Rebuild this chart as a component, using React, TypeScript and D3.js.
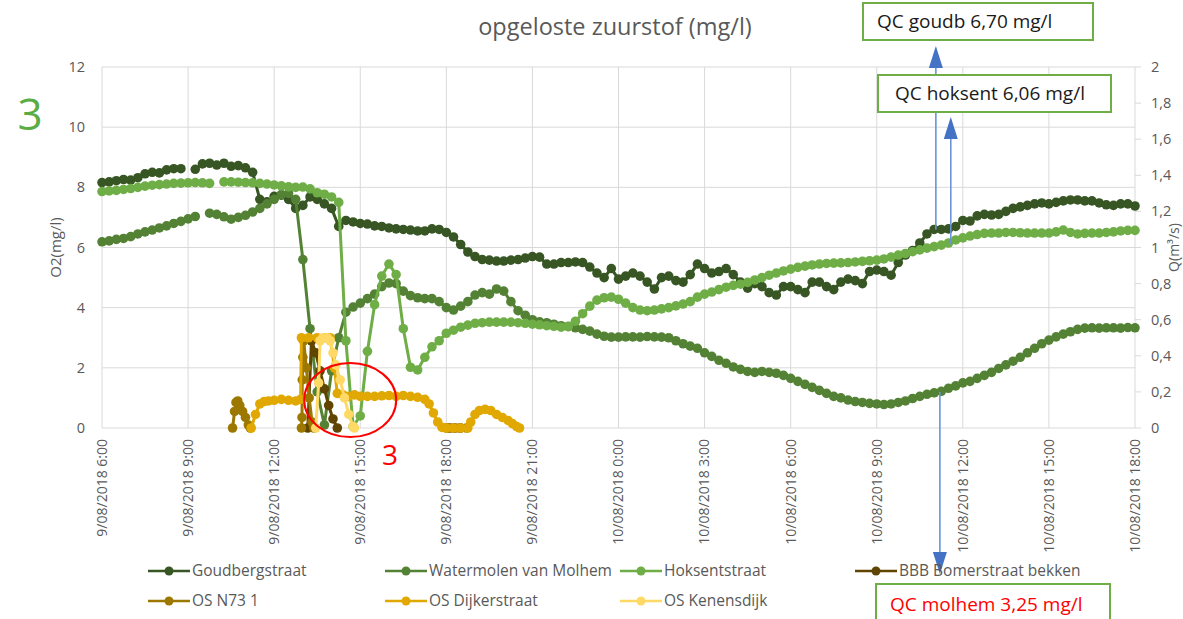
import React from 'react';
import * as d3 from 'd3';

// time in hours from 9/08/2018 0:00; grid series start at 6:00, every 15 minutes
const GRID_START = 6;
const GRID_STEP = 0.25;

const goudbergstraat: (number | null)[] = [
  8.16, 8.18, 8.22, 8.26, 8.24, 8.32, 8.45, 8.5, 8.48, 8.58, 8.62, 8.62, null, 8.6, 8.78, 8.8,
  8.74, 8.8, 8.7, 8.72, 8.65, 8.5, 7.6, 7.52, 7.7, 7.74, 7.6, 7.3, 7.4, 7.68, 7.6, 7.45,
  7.3, 6.7, 6.9, 6.85, 6.8, 6.78, 6.72, 6.7, 6.65, 6.62, 6.6, 6.58, 6.55, 6.55, 6.62, 6.6,
  6.5, 6.35, 6.1, 5.85, 5.7, 5.6, 5.58, 5.55, 5.55, 5.58, 5.6, 5.65, 5.7, 5.68, 5.45, 5.45,
  5.5, 5.5, 5.52, 5.5, 5.35, 5.15, 5.0, 5.3, 4.95, 5.05, 5.15, 5.05, 4.85, 4.62, 5.0, 5.05,
  4.9, 4.85, 5.1, 5.45, 5.3, 5.15, 5.2, 5.3, 5.1, 4.85, 4.65, 4.8, 4.7, 4.5, 4.42, 4.7,
  4.7, 4.6, 4.5, 4.85, 4.85, 4.7, 4.6, 4.85, 4.95, 4.9, 4.8, 5.2, 5.25, 5.2, 5.08, 5.5,
  5.75, 5.9, 6.15, 6.45, 6.6, 6.6, 6.62, 6.7, 6.9, 6.88, 7.05, 7.1, 7.08, 7.1, 7.2, 7.3,
  7.35, 7.4, 7.45, 7.48, 7.45, 7.5, 7.55, 7.58, 7.58, 7.55, 7.55, 7.48, 7.42, 7.4, 7.45, 7.45,
  7.38,
];

const watermolenVanMolhem: (number | null)[] = [
  6.19, 6.22, 6.27, 6.3, 6.36, 6.45, 6.52, 6.58, 6.65, 6.72, 6.8, 6.87, 6.95, 7.03, null, 7.14,
  7.1, 7.02, 6.94, 7.0, 7.07, 7.18, 7.3, 7.45, 7.6, 7.76, 7.8, 7.6, 5.6, 3.3, 1.2, 0.1,
  1.9, 3.0, 3.85, 4.02, 4.15, 4.3, 4.45, 4.7, 4.82, 4.8, 4.55, 4.4, 4.33, 4.3, 4.3, 4.2,
  4.0, 3.92, 4.05, 4.2, 4.42, 4.5, 4.45, 4.62, 4.55, 4.2, 3.9, 3.75, 3.6, 3.53, 3.5, 3.45,
  3.4, 3.37, 3.33, 3.28, 3.22, 3.12, 3.05, 3.02, 3.02, 3.03, 3.03, 3.02, 3.04, 3.03, 3.02, 3.0,
  2.9, 2.8, 2.72, 2.65, 2.5, 2.38, 2.25, 2.15, 2.03, 1.95, 1.88, 1.85, 1.88, 1.85, 1.82, 1.75,
  1.65, 1.55, 1.45, 1.35, 1.25, 1.15, 1.05, 1.0, 0.93, 0.88, 0.85, 0.82, 0.8, 0.78, 0.8, 0.85,
  0.9, 0.98, 1.05, 1.12, 1.17, 1.22, 1.32, 1.4, 1.5, 1.55, 1.65, 1.75, 1.85, 1.98, 2.1, 2.22,
  2.35, 2.5, 2.65, 2.8, 2.92, 3.03, 3.12, 3.2, 3.28, 3.32, 3.33, 3.32, 3.33, 3.33, 3.32, 3.34,
  3.33,
];

const hoksentstraat: (number | null)[] = [
  7.86, 7.88, 7.9, 7.93, 7.96, 8.0, 8.04, 8.07, 8.09, 8.11, 8.13, 8.14, 8.15, 8.16, 8.15, 8.13,
  null, 8.18, 8.18, 8.17, 8.16, 8.15, 8.13, 8.11, 8.08, 8.05, 8.02, 8.0, 8.01, 7.95, 7.82, 7.77,
  7.68, 7.5, 2.9, 0.05, 0.4, 2.55, 4.1, 5.05, 5.45, 5.1, 3.3, 2.02, 1.93, 2.35, 2.7, 2.9,
  3.15, 3.25, 3.35, 3.42, 3.48, 3.5, 3.52, 3.52, 3.52, 3.52, 3.5, 3.48, 3.45, 3.43, 3.4, 3.38,
  3.35, 3.38, 3.55, 3.8, 4.05, 4.25, 4.33, 4.35, 4.28, 4.15, 4.0, 3.92, 3.9, 3.92, 3.96, 4.0,
  4.06, 4.12, 4.2, 4.35, 4.45, 4.52, 4.6, 4.68, 4.74, 4.78, 4.84, 4.92, 5.0, 5.08, 5.15, 5.22,
  5.28, 5.34, 5.38, 5.42, 5.45, 5.47, 5.48, 5.49, 5.5, 5.52, 5.54, 5.56, 5.58, 5.62, 5.68, 5.75,
  5.8, 5.86, 5.92, 5.98, 6.03, 6.08, 6.15, 6.25, 6.32, 6.38, 6.43, 6.47, 6.48, 6.48, 6.5, 6.5,
  6.49, 6.48, 6.48, 6.48, 6.48, 6.52, 6.58, 6.5, 6.45, 6.47, 6.48, 6.48, 6.5, 6.52, 6.55, 6.57,
  6.57,
];

// irregular series: [hour, value]; null value breaks the line
const bbbBomerstraatBekken: [number, number | null][] = [
  [13.17, 0], [13.3, 2.9], [13.45, 2.5], [13.6, 1.9], [13.75, 1.3], [13.9, 0.75], [14.05, 0.3], [14.2, 0],
  [16, null],
  [18.1, 0], [18.3, 0], [18.5, 0],
];

const osN731: [number, number | null][] = [
  [10.55, 0], [10.62, 0.55], [10.67, 0.85], [10.73, 0.9], [10.8, 0.75], [10.9, 0.55], [11.0, 0.35], [11.1, 0.1], [11.17, 0],
  [12, null],
  [12.95, 0], [12.97, 0.35], [12.98, 1.6], [13.0, 2.35], [13.03, 2.9], [13.12, 2.0], [13.22, 1.0], [13.32, 0.2], [13.38, 0],
  [16, null],
  [18.0, 0], [18.2, 0], [18.45, 0], [18.7, 0],
];

const osDijkerstraat: [number, number | null][] = [
  [11.2, 0], [11.35, 0.45], [11.5, 0.8], [11.65, 0.88], [11.8, 0.9], [12.0, 0.92], [12.25, 0.95], [12.5, 0.92],
  [12.75, 0.9], [12.92, 0.95], [12.95, 3.0], [13.2, 3.0], [13.5, 3.0], [13.75, 3.0], [13.95, 3.0], [14.1, 2.0],
  [14.2, 1.15], [14.4, 1.1], [14.6, 1.05], [14.8, 1.1], [15.0, 1.05], [15.25, 1.05], [15.5, 1.05], [15.75, 1.07],
  [16.0, 1.08], [16.25, 1.05], [16.5, 1.08], [16.75, 1.05], [17.0, 1.02], [17.25, 0.95], [17.4, 0.8], [17.55, 0.5],
  [17.7, 0.2], [17.85, 0.02], [18.0, 0], [18.25, 0], [18.5, 0], [18.75, 0], [18.85, 0.2], [19.0, 0.45],
  [19.15, 0.58], [19.35, 0.62], [19.55, 0.58], [19.75, 0.45], [19.95, 0.35], [20.15, 0.25], [20.3, 0.15], [20.45, 0.05],
  [20.55, 0],
];

const osKenensdijk: [number, number | null][] = [
  [13.45, 0], [13.55, 1.5], [13.6, 2.9], [13.7, 3.0], [13.85, 3.0], [13.95, 2.9], [14.05, 2.5], [14.15, 2.1],
  [14.3, 1.6], [14.45, 1.0], [14.6, 0.45], [14.75, 0.05], [14.8, 0],
];

const xTickHours = [6, 9, 12, 15, 18, 21, 24, 27, 30, 33, 36, 39, 42];
const yLeftTicks = [0, 2, 4, 6, 8, 10, 12];
const yRightTicks = [0, 0.2, 0.4, 0.6, 0.8, 1, 1.2, 1.4, 1.6, 1.8, 2];

const annotations = [
  { label: 'QC goudb 6,70 mg/l', t: 35.06, v: 6.6, dir: 'up', tip: 46, textColor: '#1a1a1a', box: [863, 3, 230, 37], pad: 14 },
  { label: 'QC hoksent 6,06 mg/l', t: 35.58, v: 6.1, dir: 'up', tip: 117, textColor: '#1a1a1a', box: [878, 75, 233, 37], pad: 17 },
  { label: 'QC molhem 3,25 mg/l', t: 35.2, v: 1.2, dir: 'down', tip: 574, textColor: '#ff0000', box: [876, 584, 234, 40], pad: 14 },
];

const gridToPairs = (vals: (number | null)[]): [number, number | null][] =>
  vals.map((v, i) => [GRID_START + i * GRID_STEP, v]);

const series = [
  { name: 'Goudbergstraat', color: '#375623', data: gridToPairs(goudbergstraat) },
  { name: 'Watermolen van Molhem', color: '#548235', data: gridToPairs(watermolenVanMolhem) },
  { name: 'Hoksentstraat', color: '#6fae46', data: gridToPairs(hoksentstraat) },
  { name: 'BBB Bomerstraat bekken', color: '#5f4500', data: bbbBomerstraatBekken },
  { name: 'OS N73 1', color: '#9c7800', data: osN731 },
  { name: 'OS Dijkerstraat', color: '#e0a800', data: osDijkerstraat },
  { name: 'OS Kenensdijk', color: '#ffd966', data: osKenensdijk },
];

const legendCols = [148, 385, 620, 855];
const legendRows = [571, 601];

const FONT = '"Open Sans", "DejaVu Sans", sans-serif';
const GRAY = '#595959';

export default function App() {
  const x = d3.scaleLinear().domain([6, 42]).range([102, 1135]);
  const y = d3.scaleLinear().domain([0, 12]).range([428, 67]);
  const yR = d3.scaleLinear().domain([0, 2]).range([428, 67]);

  const line = d3
    .line<[number, number | null]>()
    .defined((d) => d[1] != null)
    .x((d) => x(d[0]))
    .y((d) => y(d[1] as number));

  const fmtR = (v: number) => d3.format('~g')(v).replace('.', ',');
  const fmtX = (h: number) => `${h < 24 ? 9 : 10}/08/2018 ${h % 24}:00`;

  const ell = { cx: x(14.65), cy: y(0.93) };

  return (
    <svg
      width={1183}
      height={619}
      style={{ position: 'absolute', left: 0, top: 0, background: '#fff', fontFamily: FONT }}
    >
      <rect x={0} y={0} width={1183} height={619} fill="#fff" />
      {/* grid */}
      {yLeftTicks.map((t) => (
        <line key={'gy' + t} x1={102} x2={1135} y1={y(t)} y2={y(t)} stroke="#d9d9d9" strokeWidth={1} />
      ))}
      {xTickHours.map((h) => (
        <line key={'gx' + h} x1={x(h)} x2={x(h)} y1={67} y2={428} stroke="#d9d9d9" strokeWidth={1} />
      ))}
      {/* right axis ticks */}
      {yRightTicks.map((t) => (
        <line key={'rt' + t} x1={1135} x2={1141} y1={yR(t)} y2={yR(t)} stroke="#d9d9d9" strokeWidth={1} />
      ))}

      {/* title */}
      <text x={615} y={35} textAnchor="middle" fontSize={23.5} fill={GRAY}>
        opgeloste zuurstof (mg/l)
      </text>

      {/* left axis labels */}
      {yLeftTicks.map((t) => (
        <text key={'yl' + t} x={85} y={y(t)} dy="0.35em" textAnchor="end" fontSize={14.5} fill={GRAY}>
          {t}
        </text>
      ))}
      <text transform={`translate(56,${(67 + 428) / 2}) rotate(-90)`} textAnchor="middle" dy="0.35em" fontSize={15} fill={GRAY}>
        O2(mg/l)
      </text>

      {/* right axis labels */}
      {yRightTicks.map((t) => (
        <text key={'yr' + t} x={1151} y={yR(t)} dy="0.35em" textAnchor="start" fontSize={14.5} fill={GRAY}>
          {fmtR(t)}
        </text>
      ))}
      <text transform={`translate(1174,${(67 + 428) / 2}) rotate(-90)`} textAnchor="middle" dy="0.35em" fontSize={14} fill={GRAY}>
        Q(m³/s)
      </text>

      {/* x axis labels */}
      {xTickHours.map((h) => (
        <text
          key={'xl' + h}
          transform={`translate(${x(h)},439) rotate(-90)`}
          textAnchor="end"
          dy="0.35em"
          fontSize={14}
          fill={GRAY}
        >
          {fmtX(h)}
        </text>
      ))}

      {/* series */}
      {series.map((s) => (
        <g key={s.name}>
          <path d={line(s.data) || ''} fill="none" stroke={s.color} strokeWidth={3} strokeLinejoin="round" />
          {s.data
            .filter((d) => d[1] != null)
            .map((d, i) => (
              <circle key={i} cx={x(d[0])} cy={y(d[1] as number)} r={4.8} fill={s.color} />
            ))}
        </g>
      ))}

      {/* red ellipse and labels */}
      <ellipse cx={ell.cx} cy={ell.cy} rx={46} ry={37} fill="none" stroke="#ff0000" strokeWidth={2} />
      <text x={390} y={465} textAnchor="middle" fontSize={28} fill="#ff0000">
        3
      </text>
      <text x={30} y={130} textAnchor="middle" fontSize={44} fill="#5aac44">
        3
      </text>

      {/* annotations */}
      {annotations.map((a) => {
        const ax = x(a.t);
        const ay = y(a.v);
        const up = a.dir === 'up';
        const headH = 22;
        const headW = 14;
        const base = up ? a.tip + headH : a.tip - headH;
        const [bx, by, bw, bh] = a.box;
        return (
          <g key={a.label}>
            <line x1={ax} x2={ax} y1={ay} y2={base} stroke="#6a93d8" strokeWidth={1.6} />
            <path
              d={`M${ax},${a.tip} L${ax - headW / 2},${base} L${ax + headW / 2},${base} Z`}
              fill="#4472c4"
            />
            <rect x={bx} y={by} width={bw} height={bh} fill="#fff" stroke="#70ad47" strokeWidth={2} />
            <text x={bx + a.pad} y={by + bh / 2} dy="0.35em" fontSize={19} fill={a.textColor}>
              {a.label}
            </text>
          </g>
        );
      })}

      {/* legend */}
      {series.map((s, i) => {
        const lx = legendCols[i % 4];
        const ly = legendRows[Math.floor(i / 4)];
        return (
          <g key={'lg' + s.name}>
            <line x1={lx} x2={lx + 42} y1={ly} y2={ly} stroke={s.color} strokeWidth={2.5} />
            <circle cx={lx + 21} cy={ly} r={4.5} fill={s.color} />
            <text x={lx + 44} y={ly} dy="0.35em" fontSize={15.5} fill={GRAY}>
              {s.name}
            </text>
          </g>
        );
      })}
    </svg>
  );
}
